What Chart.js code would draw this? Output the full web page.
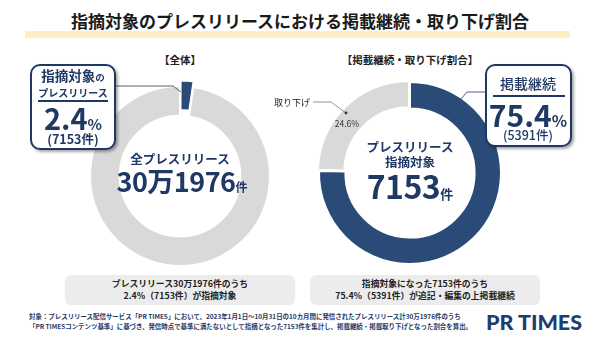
<!DOCTYPE html>
<html lang="ja">
<head>
<meta charset="utf-8">
<script src="https://cdn.jsdelivr.net/npm/chart.js@4"></script>
<style>
  body { margin: 0; background: #fff; }
  #page {
    position: relative; width: 600px; height: 338px; overflow: hidden;
    font-family: "Noto Sans CJK JP", "Noto Sans", sans-serif; color: #1f3864;
  }
  .abs { position: absolute; white-space: nowrap; }
  .c { transform: translate(-50%, -50%); text-align: center; line-height: 1; }
  canvas { position: absolute; }
  #title { left: 300px; top: 20px; font-size: 17px; font-weight: 700; color: #1a1a1a; z-index: 2; }
  #band { left: 25px; top: 31px; width: 545px; height: 7px; background: #fcefc6; }
  .sect { font-size: 10.5px; font-weight: 700; color: #222; }
  .callout {
    position: absolute; background: #fff; border: 2px solid #1f3864; border-radius: 10px;
    box-shadow: 2px 2px 3px rgba(0,0,0,.35); z-index: 3; box-sizing: border-box;
  }
  .callout .abs { font-weight: 700; }
  .rule { position: absolute; height: 1.5px; background: #1f3864; }
  .bbox {
    position: absolute; background: #ececec; border-radius: 6px; top: 275px; height: 30px; width: 230px;
    font-size: 8.8px; font-weight: 700; color: #222; text-align: center; line-height: 12px;
    display: flex; flex-direction: column; justify-content: center;
  }
  #foot { left: 29px; top: 312px; font-size: 6.45px; font-weight: 700; line-height: 10px; color: #1f3864; }
  #logo { left: 486px; top: 309px; font-family: Lato, "DejaVu Sans", sans-serif; font-weight: 900; font-size: 21.5px; color: #1c3d6e; letter-spacing: 0px; }
  svg { position: absolute; left: 0; top: 0; z-index: 2; }
</style>
</head>
<body>
<div id="page">
  <div id="band" class="abs"></div>
  <div id="title" class="abs c">指摘対象のプレスリリースにおける掲載継続・取り下げ割合</div>

  <div class="abs c sect" style="left:180px;top:60px">【全体】</div>
  <div class="abs c sect" style="left:410px;top:60px">【掲載継続・取り下げ割合】</div>

  <canvas id="overallChart" width="240" height="240" style="left:60px;top:56px"></canvas>
  <canvas id="flaggedChart" width="240" height="240" style="left:290px;top:53px"></canvas>

  <svg width="600" height="338">
    <polyline points="116,86 173,86 181,92" fill="none" stroke="#55627d" stroke-width="1"/>
    <polyline points="486,92 467,92 461,99" fill="none" stroke="#55627d" stroke-width="1"/>
    <polyline points="313,102 331,102 346,113" fill="none" stroke="#777" stroke-width="0.8"/>
    <circle cx="346" cy="113" r="1.4" fill="#333"/>
  </svg>

  <!-- 左ドーナツ中央 -->
  <div class="abs c" style="left:180px;top:159px;font-size:12.5px;font-weight:700">全プレスリリース</div>
  <div class="abs c" style="left:182px;top:180px;font-weight:700">
    <span style="font-size:27px;letter-spacing:-0.5px">30万1976</span><span style="font-size:12px">件</span>
  </div>

  <!-- 右ドーナツ中央 -->
  <div class="abs c" style="left:410px;top:147px;font-size:12.5px;font-weight:700">プレスリリース</div>
  <div class="abs c" style="left:410px;top:162px;font-size:12.5px;font-weight:700">指摘対象</div>
  <div class="abs c" style="left:410px;top:185px;font-weight:700">
    <span style="font-size:32px;letter-spacing:-0.5px">7153</span><span style="font-size:13px">件</span>
  </div>

  <div class="abs c" style="left:292px;top:102px;font-size:9px;color:#222">取り下げ</div>
  <div class="abs c" style="left:347px;top:123px;font-size:8.5px;color:#333">24.6%</div>

  <!-- 吹き出し（左） -->
  <div class="callout" style="left:30px;top:64px;width:86px;height:86px">
    <div class="abs c" style="left:41px;top:10px;font-size:13.5px">指摘対象<span style="font-size:9.5px">の</span></div>
    <div class="abs c" style="left:41px;top:27px;font-size:10px">プレスリリース</div>
    <div class="rule" style="left:6px;width:70px;top:34px"></div>
    <div class="abs c" style="left:41px;top:51px"><span style="font-size:29px">2.4</span><span style="font-size:15px">%</span></div>
    <div class="abs c" style="left:41px;top:73px;font-size:12.5px">(7153件)</div>
  </div>
  <!-- 吹き出し（右） -->
  <div class="callout" style="left:485px;top:64px;width:87px;height:83px">
    <div class="abs c" style="left:41px;top:17px;font-size:14px;font-weight:500">掲載継続</div>
    <div class="rule" style="left:6px;width:72px;top:29px"></div>
    <div class="abs c" style="left:41px;top:48px"><span style="font-size:30px">75.4</span><span style="font-size:16px">%</span></div>
    <div class="abs c" style="left:41px;top:69px;font-size:12.5px;font-weight:500">(5391件)</div>
  </div>

  <div class="bbox" style="left:65px"><div>プレスリリース30万1976件のうち</div><div>2.4%（7153件）が指摘対象</div></div>
  <div class="bbox" style="left:310px"><div>指摘対象になった7153件のうち</div><div>75.4%（5391件）が追記・編集の上掲載継続</div></div>

  <div id="foot" class="abs">対象：プレスリリース配信サービス「PR TIMES」において、2023年1月1日～10月31日の10カ月間に発信されたプレスリリース計30万1976件のうち<br>「PR TIMESコンテンツ基準」に基づき、発信時点で基準に満たないとして指摘となった7153件を集計し、掲載継続・掲載取り下げとなった割合を算出。</div>
  <div id="logo" class="abs">PR TIMES</div>
</div>

<script>
// 全体（30万1976件）の内訳
const overallLabels = ["指摘対象", "その他"];
const overallValues = [7153, 294823];

// 指摘対象（7153件）の内訳
const flaggedLabels = ["掲載継続", "取り下げ"];
const flaggedValues = [5391, 1762];

const NAVY = "#2a4a77";
const GRAY = "#d9d9d9";

const baseOptions = {
  responsive: false,
  animation: false,
  events: [],
  layout: { padding: 0 },
  plugins: { legend: { display: false }, tooltip: { enabled: false } }
};

new Chart(document.getElementById("overallChart"), {
  type: "doughnut",
  data: {
    labels: overallLabels,
    datasets: [{
      data: overallValues,
      backgroundColor: [NAVY, GRAY],
      borderColor: "#fff",
      borderWidth: 2,
      offset: [12, 0]
    }]
  },
  options: { ...baseOptions, radius: 90, cutout: "67%" }
});

new Chart(document.getElementById("flaggedChart"), {
  type: "doughnut",
  data: {
    labels: flaggedLabels,
    datasets: [{
      data: flaggedValues,
      backgroundColor: [NAVY, GRAY],
      borderColor: "#fff",
      borderWidth: 2,
      offset: [0, 6]
    }]
  },
  options: { ...baseOptions, radius: 91, cutout: "71%" }
});
</script>
</body>
</html>
